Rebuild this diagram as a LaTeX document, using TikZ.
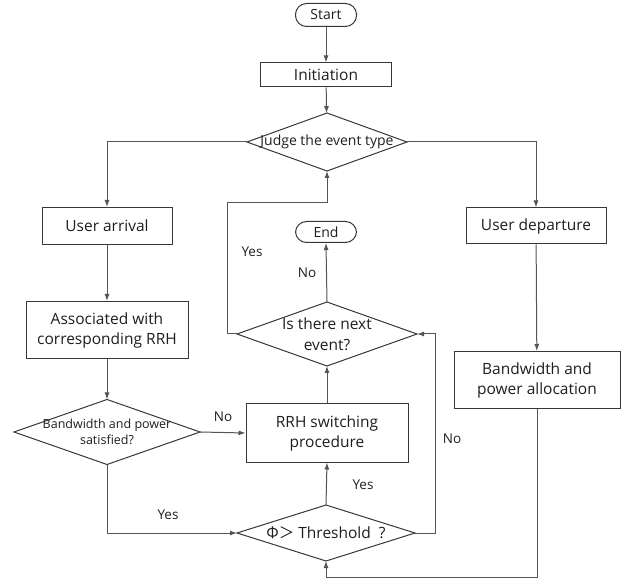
\documentclass[tikz,border=0pt]{standalone}
\usepackage{fontspec}
\setmainfont{Open Sans}
\newfontfamily\cjk{Noto Sans CJK SC}
\usetikzlibrary{shapes.geometric, positioning, calc, arrows.meta}
\definecolor{boxline}{RGB}{55,55,55}
\definecolor{flowline}{RGB}{85,85,85}
\definecolor{inktext}{RGB}{30,30,30}
\tikzset{
  termnode/.style={draw=boxline, line width=1pt, rounded corners=11pt, minimum width=61pt,
    minimum height=23pt, inner sep=0pt, text=inktext, font=\fontsize{14}{16}\selectfont},
  procbox/.style={draw=boxline, line width=1pt, align=center, inner sep=0pt, text=inktext,
    font=\fontsize{15.5}{20}\selectfont},
  decbox/.style={draw=boxline, line width=1pt, diamond, inner sep=0pt, outer sep=0pt},
  dectext/.style={align=center, inner sep=0pt, text=inktext},
  flowarr/.style={draw=flowline, line width=1pt, -{Latex[length=7pt,width=5pt]}},
  flowseg/.style={draw=flowline, line width=1pt},
  yesno/.style={text=inktext, font=\fontsize{13.5}{16}\selectfont}
}
\begin{document}
\begin{tikzpicture}[x=1pt, y=-1pt]
  \useasboundingbox (0,0) rectangle (627,585);
  % main column
  \node[termnode] (start) at (326,15) {Start};
  \node[procbox, minimum width=131pt, minimum height=24pt] (init) at (326,75) {Initiation};
  \node[decbox, minimum width=160pt, minimum height=58pt,
    label={[dectext, font=\fontsize{14}{16}\selectfont]center:Judge the event type}] (judge) at (327,142) {};
  % arrival branch
  \node[procbox, minimum width=130pt, minimum height=37pt] (uarr) at (107,226) {User arrival};
  \node[procbox, minimum width=162pt, minimum height=57pt] (assoc) at (107,330) {Associated with\\corresponding RRH};
  \node[decbox, minimum width=186pt, minimum height=65pt,
    label={[dectext, font=\fontsize{12.5}{16}\selectfont]center:Bandwidth and power\\satisfied?}] (sat) at (107,432) {};
  % departure branch
  \node[procbox, minimum width=140pt, minimum height=36pt] (udep) at (536,226) {User departure};
  \node[procbox, minimum width=166pt, minimum height=57pt] (alloc) at (537,380) {Bandwidth and\\power allocation};
  % middle column
  \node[termnode, minimum height=21pt] (end) at (326,232) {End};
  \node[decbox, minimum width=180pt, minimum height=64pt,
    label={[dectext, font=\fontsize{15.5}{21}\selectfont]center:Is there next\\event?}] (next) at (327,334) {};
  \node[procbox, minimum width=162pt, minimum height=58pt] (rrh) at (327,433) {RRH switching\\procedure};
  \node[decbox, minimum width=178pt, minimum height=56pt,
    label={[dectext, font=\fontsize{15.5}{18}\selectfont]center:{\cjk Φ＞} Threshold\ \ ?}] (thr) at (326,533) {};

  \coordinate (loopl) at (227,203);
  \coordinate (loopr) at (435,533);
  \coordinate (loopb) at (537,577);

  \draw[flowarr] (start) -- (init);
  \draw[flowarr] (init) -- (judge);
  \draw[flowarr] (judge.west) -| (uarr.north);
  \draw[flowarr] (judge.east) -| (udep.north);
  \draw[flowarr] (uarr) -- (assoc);
  \draw[flowarr] (assoc) -- (sat);
  \draw[flowarr] (udep) -- (alloc);
  \draw[flowarr] (sat.east) -- (rrh.west);
  \draw[flowarr] (sat.south) |- (thr.west);
  \draw[flowarr] (thr.north) -- (rrh.south);
  \draw[flowarr] (rrh.north) -- (next.south);
  \draw[flowarr] (next.north) -- (end.south);
  \draw[flowarr] (next.west) -| (loopl) -| (judge.south);
  \draw[flowarr] (thr.east) -- (loopr) |- (next.east);
  \draw[flowarr] (alloc.south) -- (loopb) -| (thr.south);

  % branch labels
  \node[yesno] (nosat) at (223,417) {No};
  \node[yesno] (yessat) at (168,515) {Yes};
  \node[yesno] (yesthr) at (363,485) {Yes};
  \node[yesno] (nothr) at (452,439) {No};
  \node[yesno] (nonext) at (307,273) {No};
  \node[yesno] (yesnext) at (252,252) {Yes};
\end{tikzpicture}
\end{document}
